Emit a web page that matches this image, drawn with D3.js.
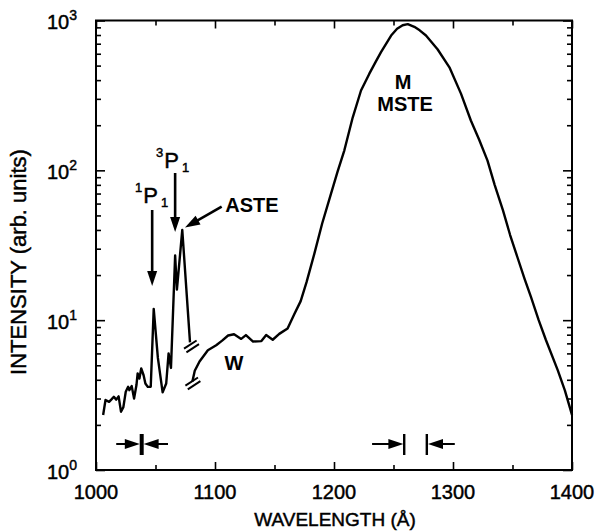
<!DOCTYPE html>
<html><head><meta charset="utf-8">
<script src="https://cdn.jsdelivr.net/npm/d3@7"></script>
<style>
body{margin:0;background:#fff}
svg{display:block}
text{font-family:"Liberation Sans",Arial,Helvetica,sans-serif;fill:#000}
.heavy{stroke:#000;stroke-width:0.45px}
</style>
</head><body>
<svg id="chart" width="601" height="531"></svg>
<script>
// Short-wavelength part of the spectrum (atomic lines region)
const shortWl  = [1006, 1008, 1011, 1013, 1015, 1017, 1019, 1021, 1023, 1025, 1027, 1028, 1030, 1032, 1034, 1035, 1036.5, 1038, 1040, 1041.5, 1043.5, 1046, 1048.5, 1052, 1056, 1059, 1061, 1063, 1066.5, 1068, 1072.5, 1079];
const shortInt = [2.33, 2.93, 2.85, 2.96, 3.08, 2.95, 3.10, 2.45, 2.63, 3.33, 3.59, 3.41, 3.63, 3.00, 3.69, 4.41, 4.08, 4.76, 4.29, 3.78, 3.59, 3.59, 11.9, 5.6, 3.3, 3.78, 6.0, 4.8, 27, 16, 40, 7.1];

// Long-wavelength part: wing (W) and molecular continuum (M)
const longWl  = [1081, 1083, 1087, 1094, 1101, 1106, 1111, 1116, 1122, 1126, 1132, 1139, 1143, 1148.5, 1154, 1161, 1166.5, 1172, 1177, 1183.5, 1190, 1197.5, 1203, 1208.7, 1215.7, 1222.7, 1229.6, 1235, 1239.5, 1248, 1253, 1257.7, 1262, 1267.5, 1272, 1277.3, 1287, 1297, 1306.7, 1315, 1322, 1329, 1335, 1342, 1348, 1354, 1360, 1365.5, 1372, 1378, 1388, 1394, 1400];
const longInt = [3.9, 4.6, 5.3, 6.3, 6.8, 7.3, 7.9, 8.05, 7.5, 7.95, 7.2, 7.25, 7.95, 7.4, 8.1, 8.8, 10.9, 13.4, 18, 27.8, 44, 70, 98, 136, 225, 341, 440, 530, 615, 794, 880, 930, 945, 907, 860, 794, 643, 487, 325, 215, 160, 116, 80, 54, 37, 26.5, 19, 14.3, 10, 7.4, 4.64, 3.4, 2.33];

const xTicks = [1000, 1100, 1200, 1300, 1400];
const xMinorTicks = [1050, 1150, 1250, 1350];
const yExponents = [0, 1, 2, 3];

const svg = d3.select("#chart");
const x = d3.scaleLinear().domain([1000, 1400]).range([96, 572]);
const y = d3.scaleLog().domain([1, 1000]).range([470, 20.5]);

const yMinor = [];
for (let e = 0; e < 3; e++) for (let m = 2; m <= 9; m++) yMinor.push(m * Math.pow(10, e));
const yMajor = yExponents.map(e => Math.pow(10, e));

const axisG = svg.append("g");
function addAxis(axis, tf, vals, len) {
  const g = axisG.append("g").attr("transform", tf)
    .call(axis.tickValues(vals).tickSizeInner(len).tickSizeOuter(0).tickFormat(""));
  g.select(".domain").remove();
  g.selectAll(".tick line").attr("stroke", "#000").attr("stroke-width", 1.6);
}
// ticks point into the plot on all four sides
addAxis(d3.axisBottom(x), "translate(0,470)", xTicks, -8);
addAxis(d3.axisBottom(x), "translate(0,470)", xMinorTicks, -5);
addAxis(d3.axisTop(x), "translate(0,20.5)", xTicks, -8);
addAxis(d3.axisTop(x), "translate(0,20.5)", xMinorTicks, -5);
addAxis(d3.axisLeft(y), "translate(96,0)", yMajor, -9);
addAxis(d3.axisLeft(y), "translate(96,0)", yMinor, -5);
addAxis(d3.axisRight(y), "translate(572,0)", yMajor, -9);
addAxis(d3.axisRight(y), "translate(572,0)", yMinor, -5);

// frame
svg.append("rect").attr("x", 96).attr("y", 20.5)
  .attr("width", 476).attr("height", 449.5)
  .attr("fill", "none").attr("stroke", "#000").attr("stroke-width", 2);

// tick labels
svg.append("g").selectAll("text").data(xTicks).join("text")
  .attr("class", "heavy")
  .attr("x", d => x(d)).attr("y", 499)
  .attr("text-anchor", "middle").attr("font-size", 20)
  .text(d => d);

const yl = svg.append("g").selectAll("text").data(yExponents).join("text")
  .attr("class", "heavy")
  .attr("x", 77).attr("y", d => y(Math.pow(10, d)) + 8.5)
  .attr("text-anchor", "end").attr("font-size", 20);
yl.append("tspan").text("10");
yl.append("tspan").attr("dy", -9).attr("font-size", 14).text(d => d);

// axis titles
svg.append("text").attr("class", "heavy").attr("x", 335).attr("y", 526)
  .attr("text-anchor", "middle").attr("font-size", 19)
  .text("WAVELENGTH (Å)");
svg.append("text").attr("class", "heavy").attr("transform", "translate(26,262) rotate(-90)")
  .attr("text-anchor", "middle").attr("font-size", 22)
  .text("INTENSITY (arb. units)");

// spectrum
const line = d3.line().x(d => x(d[0])).y(d => y(d[1]));
const plot = svg.append("g").attr("fill", "none").attr("stroke", "#000")
  .attr("stroke-width", 2.4).attr("stroke-linejoin", "round");
plot.append("path").attr("d", line(d3.zip(shortWl, shortInt)));
plot.append("path").attr("d", line(d3.zip(longWl, longInt)));

// break marks at the gap between the two parts
function breakMark(cx, cy) {
  const a = -33 * Math.PI / 180, L = 7.5, off = 2.2;
  const ux = Math.cos(a), uy = Math.sin(a), nx = -uy, ny = ux;
  [-1, 1].forEach(s => {
    svg.append("line")
      .attr("x1", cx + s * off * nx - L * ux).attr("y1", cy + s * off * ny - L * uy)
      .attr("x2", cx + s * off * nx + L * ux).attr("y2", cy + s * off * ny + L * uy)
      .attr("stroke", "#000").attr("stroke-width", 2);
  });
}
const sEnd = shortWl.length - 1;
breakMark(x(shortWl[sEnd]) + 1.5, y(shortInt[sEnd]) + 4);
breakMark(x(longWl[0]) + 0.5, y(longInt[0]) + 2);

// arrows
function arrow(x1, y1, x2, y2, hl, hw, sw) {
  const dx = x2 - x1, dy = y2 - y1, len = Math.hypot(dx, dy);
  const ux = dx / len, uy = dy / len, nx = -uy, ny = ux;
  const bx = x2 - ux * hl, by = y2 - uy * hl;
  svg.append("line").attr("x1", x1).attr("y1", y1).attr("x2", bx + ux * 2).attr("y2", by + uy * 2)
    .attr("stroke", "#000").attr("stroke-width", sw);
  svg.append("path")
    .attr("d", `M${x2},${y2}L${bx + nx * hw / 2},${by + ny * hw / 2}L${bx - nx * hw / 2},${by - ny * hw / 2}Z`)
    .attr("fill", "#000");
}
arrow(x(1047.2), 210, x(1047.2), 286, 15, 10, 2.6);
arrow(x(1066.5), 173, x(1066.5), 232, 15, 10, 2.6);
arrow(x(1105.6), 206.7, x(1074.8), 227.5, 15, 10, 2.6);

// line labels
function termLabel(px, py, sup, letter, sub) {
  const t = svg.append("text").attr("class", "heavy").attr("x", px).attr("y", py).attr("font-size", 22);
  t.append("tspan").attr("font-size", 13).attr("dy", -11).text(sup);
  t.append("tspan").attr("dy", 11).attr("dx", 1).text(letter);
  t.append("tspan").attr("font-size", 13).attr("dy", 4).attr("dx", 3).text(sub);
}
termLabel(135, 203, "1", "P", "1");
termLabel(156, 168, "3", "P", "1");

const lab = svg.append("g").attr("font-weight", "bold").attr("font-size", 20).attr("text-anchor", "middle");
lab.append("text").attr("x", 252).attr("y", 212).text("ASTE");
lab.append("text").attr("x", 403).attr("y", 88.5).text("M");
lab.append("text").attr("x", 405).attr("y", 110.7).text("MSTE");
lab.append("text").attr("x", 234).attr("y", 370).text("W");

// resolution markers
function inArrow(xTail, xTip) {
  const yc = 444, dir = Math.sign(xTip - xTail);
  svg.append("line").attr("x1", xTail).attr("y1", yc).attr("x2", xTip - dir * 8).attr("y2", yc)
    .attr("stroke", "#000").attr("stroke-width", 2);
  svg.append("path").attr("d", `M${xTip},${yc}L${xTip - dir * 15},${yc - 5}L${xTip - dir * 15},${yc + 5}Z`).attr("fill", "#000");
}
function bar(xb, w) {
  svg.append("rect").attr("x", xb - w / 2).attr("y", 434).attr("width", w).attr("height", 21).attr("fill", "#000");
}
inArrow(x(1017), x(1036.8));
inArrow(x(1060.5), x(1040.0));
bar(x(1038.4), 4);
inArrow(x(1232), x(1258.3));
bar(x(1259), 2.4);
bar(x(1278), 2.4);
inArrow(x(1301.5), x(1279));
</script>
</body></html>
